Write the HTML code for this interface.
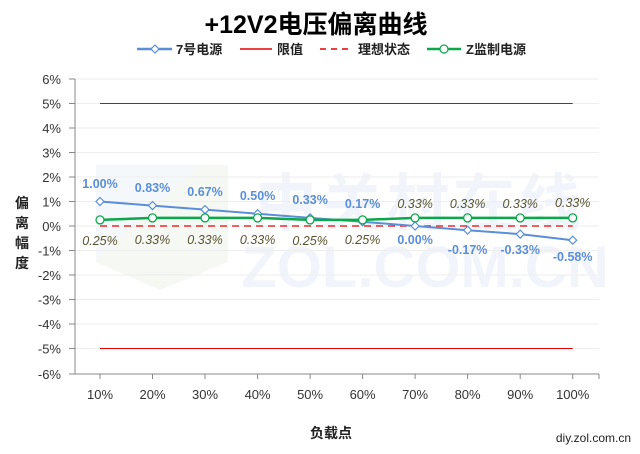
<!DOCTYPE html>
<html><head><meta charset="utf-8"><style>
html,body{margin:0;padding:0;background:#fff;}
svg{display:block;}
text{font-family:"Liberation Sans","Noto Sans CJK SC",sans-serif;}
</style></head><body>
<svg width="640" height="454" viewBox="0 0 640 454" xmlns="http://www.w3.org/2000/svg">
<!-- watermark -->
<g opacity="0.55">
<polygon points="96,165 228,165 228,262 160,290 96,262" fill="#eef3ea"/>
<polygon points="96,165 200,165 96,260" fill="#eef4f8"/>
<text x="420" y="225" font-size="62" font-weight="bold" fill="#e6eef8" text-anchor="middle" style="letter-spacing:4px">中关村在线</text>
<text x="425" y="287" font-size="58" font-weight="bold" fill="#e6eef8" text-anchor="middle">ZOL.COM.CN</text>
</g>
<!-- title -->
<text x="316" y="33" font-size="25" font-weight="bold" fill="#000" text-anchor="middle">+12V2电压偏离曲线</text>
<!-- legend -->
<g font-size="13" font-weight="bold" fill="#222">
<line x1="137" y1="49" x2="172" y2="49" stroke="#5b8ed8" stroke-width="2.5"/>
<polygon points="155,45 159,49 155,53 151,49" fill="#fff" stroke="#5b8ed8" stroke-width="1.2"/>
<text x="176" y="54">7号电源</text>
<line x1="240" y1="49" x2="272" y2="49" stroke="#e60000" stroke-width="1.5"/>
<text x="277" y="54">限值</text>
<line x1="320" y1="49" x2="353" y2="49" stroke="#e60000" stroke-width="1.5" stroke-dasharray="6,5"/>
<text x="358" y="54">理想状态</text>
<line x1="427" y1="49" x2="461" y2="49" stroke="#0aa84a" stroke-width="2.5"/>
<circle cx="444" cy="49" r="4" fill="#fff" stroke="#0aa84a" stroke-width="1.2"/>
<text x="466" y="54">Z监制电源</text>
</g>
<!-- grid -->
<g stroke="#eeeeee" stroke-width="1">
<line x1="75" y1="79" x2="599" y2="79"/>
<line x1="75" y1="103.5" x2="599" y2="103.5"/>
<line x1="75" y1="128" x2="599" y2="128"/>
<line x1="75" y1="152.5" x2="599" y2="152.5"/>
<line x1="75" y1="177" x2="599" y2="177"/>
<line x1="75" y1="201.5" x2="599" y2="201.5"/>
<line x1="75" y1="226" x2="599" y2="226"/>
<line x1="75" y1="250.5" x2="599" y2="250.5"/>
<line x1="75" y1="275" x2="599" y2="275"/>
<line x1="75" y1="299.5" x2="599" y2="299.5"/>
<line x1="75" y1="324" x2="599" y2="324"/>
<line x1="75" y1="348.5" x2="599" y2="348.5"/>
</g>
<!-- axes -->
<g stroke="#888" stroke-width="1">
<line x1="75" y1="79" x2="75" y2="374"/>
<line x1="75" y1="374" x2="599" y2="374"/>
<line x1="69" y1="79" x2="75" y2="79"/>
<line x1="69" y1="103.5" x2="75" y2="103.5"/>
<line x1="69" y1="128" x2="75" y2="128"/>
<line x1="69" y1="152.5" x2="75" y2="152.5"/>
<line x1="69" y1="177" x2="75" y2="177"/>
<line x1="69" y1="201.5" x2="75" y2="201.5"/>
<line x1="69" y1="226" x2="75" y2="226"/>
<line x1="69" y1="250.5" x2="75" y2="250.5"/>
<line x1="69" y1="275" x2="75" y2="275"/>
<line x1="69" y1="299.5" x2="75" y2="299.5"/>
<line x1="69" y1="324" x2="75" y2="324"/>
<line x1="69" y1="348.5" x2="75" y2="348.5"/>
<line x1="69" y1="374" x2="75" y2="374"/>
<line x1="100" y1="374" x2="100" y2="379"/>
<line x1="152.5" y1="374" x2="152.5" y2="379"/>
<line x1="205" y1="374" x2="205" y2="379"/>
<line x1="257.6" y1="374" x2="257.6" y2="379"/>
<line x1="310.1" y1="374" x2="310.1" y2="379"/>
<line x1="362.6" y1="374" x2="362.6" y2="379"/>
<line x1="415.1" y1="374" x2="415.1" y2="379"/>
<line x1="467.6" y1="374" x2="467.6" y2="379"/>
<line x1="520.2" y1="374" x2="520.2" y2="379"/>
<line x1="572.7" y1="374" x2="572.7" y2="379"/>
<line x1="599" y1="374" x2="599" y2="379"/>
</g>
<!-- y labels -->
<g font-size="13" fill="#333" text-anchor="end">
<text x="61" y="84">6%</text>
<text x="61" y="108.5">5%</text>
<text x="61" y="133">4%</text>
<text x="61" y="157.5">3%</text>
<text x="61" y="182">2%</text>
<text x="61" y="206.5">1%</text>
<text x="61" y="231">0%</text>
<text x="61" y="255.5">-1%</text>
<text x="61" y="280">-2%</text>
<text x="61" y="304.5">-3%</text>
<text x="61" y="329">-4%</text>
<text x="61" y="353.5">-5%</text>
<text x="61" y="379">-6%</text>
</g>
<!-- x labels -->
<g font-size="13" fill="#333" text-anchor="middle">
<text x="100" y="399">10%</text>
<text x="152.5" y="399">20%</text>
<text x="205" y="399">30%</text>
<text x="257.6" y="399">40%</text>
<text x="310.1" y="399">50%</text>
<text x="362.6" y="399">60%</text>
<text x="415.1" y="399">70%</text>
<text x="467.6" y="399">80%</text>
<text x="520.2" y="399">90%</text>
<text x="572.7" y="399">100%</text>
</g>
<!-- axis titles -->
<g font-size="14" font-weight="bold" fill="#222" text-anchor="middle">
<text x="22" y="208">偏</text>
<text x="22" y="228">离</text>
<text x="22" y="248">幅</text>
<text x="22" y="268">度</text>
<text x="331" y="438">负载点</text>
</g>
<text x="631" y="442" font-size="12" fill="#222" text-anchor="end">diy.zol.com.cn</text>
<!-- limit lines -->
<line x1="100" y1="103.5" x2="572.7" y2="103.5" stroke="#e60000" stroke-width="1"/>
<line x1="100" y1="348.5" x2="572.7" y2="348.5" stroke="#e60000" stroke-width="1"/>
<line x1="100" y1="226" x2="572.7" y2="226" stroke="#e60000" stroke-width="1.2" stroke-dasharray="7,5"/>
<!-- blue series -->
<polyline fill="none" stroke="#5b8ed8" stroke-width="2" points="100,201.5 152.5,205.6 205,209.6 257.6,213.7 310.1,217.9 362.6,221.8 415.1,226 467.6,230.2 520.2,234.1 572.7,240.2"/>
<g fill="#fff" stroke="#5b8ed8" stroke-width="1.2">
<polygon points="100,197.5 104,201.5 100,205.5 96,201.5"/>
<polygon points="152.5,201.6 156.5,205.6 152.5,209.6 148.5,205.6"/>
<polygon points="205,205.6 209,209.6 205,213.6 201,209.6"/>
<polygon points="257.6,209.7 261.6,213.7 257.6,217.7 253.6,213.7"/>
<polygon points="310.1,213.9 314.1,217.9 310.1,221.9 306.1,217.9"/>
<polygon points="362.6,217.8 366.6,221.8 362.6,225.8 358.6,221.8"/>
<polygon points="415.1,222 419.1,226 415.1,230 411.1,226"/>
<polygon points="467.6,226.2 471.6,230.2 467.6,234.2 463.6,230.2"/>
<polygon points="520.2,230.1 524.2,234.1 520.2,238.1 516.2,234.1"/>
<polygon points="572.7,236.2 576.7,240.2 572.7,244.2 568.7,240.2"/>
</g>
<!-- green series -->
<polyline fill="none" stroke="#0aa84a" stroke-width="2.5" points="100,219.9 152.5,217.9 205,217.9 257.6,217.9 310.1,219.9 362.6,219.9 415.1,217.9 467.6,217.9 520.2,217.9 572.7,217.9"/>
<g fill="#fff" stroke="#0aa84a" stroke-width="1.3">
<circle cx="100" cy="219.9" r="4"/>
<circle cx="152.5" cy="217.9" r="4"/>
<circle cx="205" cy="217.9" r="4"/>
<circle cx="257.6" cy="217.9" r="4"/>
<circle cx="310.1" cy="219.9" r="4"/>
<circle cx="362.6" cy="219.9" r="4"/>
<circle cx="415.1" cy="217.9" r="4"/>
<circle cx="467.6" cy="217.9" r="4"/>
<circle cx="520.2" cy="217.9" r="4"/>
<circle cx="572.7" cy="217.9" r="4"/>
</g>
<!-- blue labels -->
<g font-size="12.5" font-weight="bold" fill="#5b8ed8" text-anchor="middle">
<text x="100" y="188">1.00%</text>
<text x="152.5" y="192">0.83%</text>
<text x="205" y="196">0.67%</text>
<text x="257.6" y="200">0.50%</text>
<text x="310.1" y="204">0.33%</text>
<text x="362.6" y="208">0.17%</text>
<text x="415.1" y="244">0.00%</text>
<text x="467.6" y="254">-0.17%</text>
<text x="520.2" y="254">-0.33%</text>
<text x="572.7" y="261">-0.58%</text>
</g>
<!-- green labels -->
<g font-size="12.5" font-style="italic" fill="#5a5530" text-anchor="middle">
<text x="100" y="245">0.25%</text>
<text x="152.5" y="244">0.33%</text>
<text x="205" y="244">0.33%</text>
<text x="257.6" y="244">0.33%</text>
<text x="310.1" y="245">0.25%</text>
<text x="362.6" y="244">0.25%</text>
<text x="415.1" y="208">0.33%</text>
<text x="467.6" y="208">0.33%</text>
<text x="520.2" y="208">0.33%</text>
<text x="572.7" y="207">0.33%</text>
</g>
</svg>
</body></html>
